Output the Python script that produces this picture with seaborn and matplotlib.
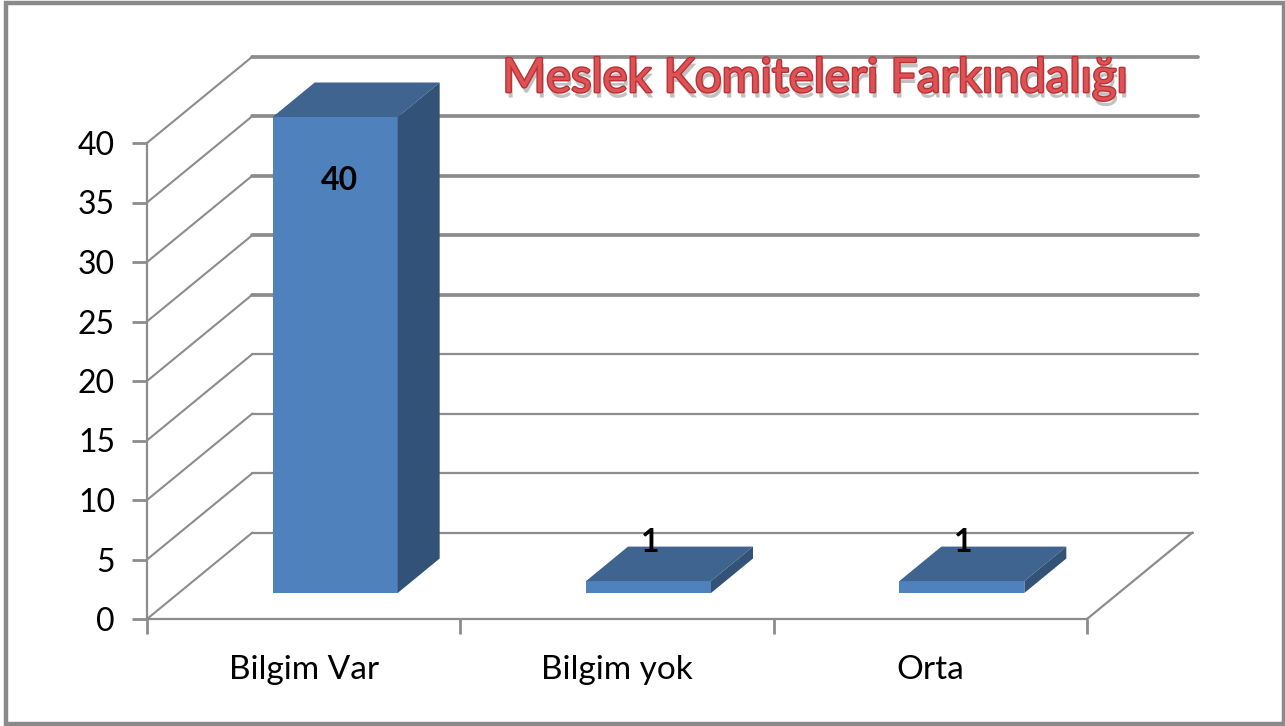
import matplotlib
matplotlib.use("Agg")
import matplotlib.pyplot as plt
import matplotlib.patheffects as pe
from matplotlib.patches import Rectangle
import seaborn as sns

categories = ["Bilgim Var", "Bilgim yok", "Orta"]
values = [40, 1, 1]
y_ticks = [0, 5, 10, 15, 20, 25, 30, 35, 40]
title = "Meslek Komiteleri Farkındalığı"

W, H = 1285, 726
L, R, T, B = 147, 1087, 143, 619
PX_X = (R - L) / 3      # pixels per category
PX_Y = (B - T) / 40     # pixels per unit

def ox(px):
    return px / PX_X

def oy(px):
    return px / PX_Y

WALL = (ox(105.5), oy(86.5))
PLANE = (ox(31.5), oy(26))
DEPTH = (ox(42), oy(34.5))
GRID = "#8c8c8c"
FRONT, TOP, SIDE = "#4f81bd", "#3f648f", "#325277"

sns.set_theme(style="white")
plt.rcParams["font.family"] = ["Lato", "DejaVu Sans"]

fig = plt.figure(figsize=(W / 100, H / 100), dpi=100, facecolor="white")
ax = fig.add_axes([L / W, (H - B) / H, (R - L) / W, (B - T) / H])
fig.add_artist(Rectangle((5.5 / W, 2 / H), (W - 7) / W, (H - 4.5) / H,
                         transform=fig.transFigure, fill=False, ec="#8a8a8a", lw=3.2))

sns.barplot(x=categories, y=values, color=FRONT, saturation=1, width=125 / PX_X,
            ax=ax, zorder=5, linewidth=0)
ax.set_xlim(-0.5, 2.5)
ax.set_ylim(0, 40)

# back wall and side wall
x_l, x_r = -0.5, 2.5
for v in y_ticks:
    lw = 2.7 if v >= 20 else 1.6
    ax.plot([x_l, x_l + WALL[0]], [v, v + WALL[1]], color=GRID, lw=1.5, clip_on=False,
            zorder=1)
    ax.plot([x_l + WALL[0], x_r + WALL[0] + (0 if v == 0 else ox(5))],
            [v + WALL[1], v + WALL[1]], color=GRID, lw=lw, clip_on=False, zorder=1)
ax.plot([x_r, x_r + WALL[0]], [0, WALL[1]], color=GRID, lw=1.6, clip_on=False, zorder=1)

# 3D faces of the bars
for p in ax.patches:
    p.set_x(p.get_x() + PLANE[0])
    p.set_y(PLANE[1])
    p.set_clip_on(False)
    x0, x1 = p.get_x(), p.get_x() + p.get_width()
    y0, y1 = p.get_y(), p.get_y() + p.get_height()
    ax.fill([x0, x1, x1 + DEPTH[0], x0 + DEPTH[0]], [y1, y1, y1 + DEPTH[1], y1 + DEPTH[1]],
            color=TOP, lw=0, clip_on=False, zorder=5)
    ax.fill([x1, x1 + DEPTH[0], x1 + DEPTH[0], x1], [y0, y0 + DEPTH[1], y1 + DEPTH[1], y1],
            color=SIDE, lw=0, clip_on=False, zorder=5)

# value labels
for i, v in enumerate(values):
    if v > 5:
        xt, yt = i + PLANE[0] + ox(4), v + PLANE[1] - oy(64)
    else:
        xt, yt = i + PLANE[0] + ox(1.5), v + PLANE[1] + oy(39)
    ax.text(xt, yt, str(v), ha="center", va="center", fontsize=23, fontweight="bold",
            color="black", zorder=8, clip_on=False)

# axes
for s in ("top", "right"):
    ax.spines[s].set_visible(False)
for s in ("left", "bottom"):
    ax.spines[s].set_visible(True)
    ax.spines[s].set_color(GRID)
    ax.spines[s].set_linewidth(1.6)
    ax.spines[s].set_zorder(2)
ax.set_yticks(y_ticks)
ax.set_xticks([-0.5, 0.5, 1.5, 2.5])
ax.set_xticklabels([])
ax.set_xticks([0, 1, 2], labels=categories, minor=True)
ax.tick_params(axis="y", which="major", left=True, length=11, width=2, color=GRID,
               labelsize=23, labelcolor="black", pad=12)
ax.tick_params(axis="x", which="major", bottom=True, length=11, width=2, color=GRID)
ax.tick_params(axis="x", which="minor", bottom=False, length=0, labelsize=24,
               labelcolor="black", pad=26)
ax.set_xlabel("")
ax.set_ylabel("")

fig.text(816 / W, 1 - 79 / H, title, ha="center", va="center", fontsize=34,
         fontweight="normal", color="#dc5255", zorder=10,
         path_effects=[pe.SimplePatchShadow(offset=(1.5, -4), shadow_rgbFace="#777777", alpha=0.45),
                       pe.Stroke(linewidth=2.0, foreground="#bb3034"),
                       pe.Normal()])

fig.savefig("out.png", dpi=100, facecolor="white")
